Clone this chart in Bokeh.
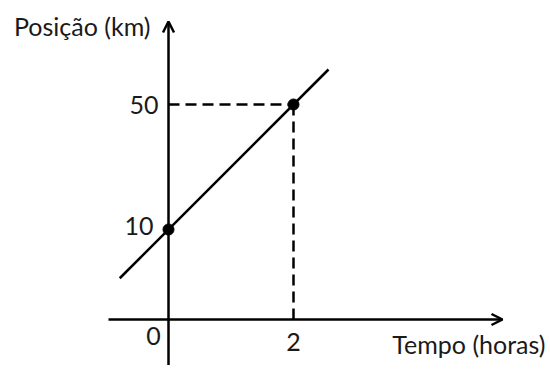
from bokeh.plotting import figure
from bokeh.models import Arrow, OpenHead, Label, Range1d
from bokeh.embed import file_html
from bokeh.resources import INLINE

# Data
times = [0, 2]            # horas
positions = [10, 50]      # km
line_t = [-0.78, 2.56]    # extent of the drawn straight line (horas)
line_pos = [-5.6, 61.2]   # km at those ends
x_tick_labels = ["0", "2"]
y_tick_labels = ["10", "50"]
x_title = "Tempo (horas)"
y_title = "Posição (km)"

# Schematic scale: 62.5 px per hour, 3.125 px per km
PXX, PXY = 62.5, 3.125
W, H = 548, 365
OFF = 0                         # page offset of the canvas
X0_PAGE, Y10_PAGE = 168, 229    # page pixel of t=0 and of 10 km

def dx(px):  # page px -> data x
    return (px - X0_PAGE) / PXX

def dy(py):  # page py -> data y
    return 10 + (Y10_PAGE - py) / PXY

p = figure(width=W, height=H, output_backend="svg", toolbar_location=None,
           x_range=Range1d(dx(OFF), dx(OFF + W)), y_range=Range1d(dy(OFF + H), dy(OFF)),
           min_border=0, x_axis_type=None, y_axis_type=None)
p.grid.visible = False
p.outline_line_color = None
p.background_fill_color = "white"
p.border_fill_color = "white"

axis_y = dy(319)
FONT = "Lato"
FS = "25px"

# axes with arrows
p.add_layout(Arrow(end=OpenHead(size=11, line_width=2.5, line_color="black"),
                   x_start=dx(108), y_start=axis_y, x_end=dx(502), y_end=axis_y,
                   line_width=2.5, line_color="black"))
p.add_layout(Arrow(end=OpenHead(size=11, line_width=2.5, line_color="black"),
                   x_start=0, y_start=dy(380), x_end=0, y_end=dy(21),
                   line_width=2.5, line_color="black"))

# dashed guides
p.line([0, times[1]], [positions[1], positions[1]], line_color="black",
       line_width=2.5, line_dash="11 6")
p.line([times[1], times[1]], [positions[1], axis_y], line_color="black",
       line_width=2.5, line_dash="11 6")

# main line and points
p.line(line_t, line_pos, line_color="black", line_width=2.5)
p.scatter(times, positions, size=11, color="black")

def lab(text, x, y, align):
    p.add_layout(Label(x=x, y=y, text=text, text_align=align, text_baseline="middle",
                       text_font=FONT, text_font_size=FS, text_color="#1a1a1a"))

lab(y_title, dx(150), dy(25), "right")
lab(y_tick_labels[1], dx(158), positions[1], "right")
lab(y_tick_labels[0], dx(153), dy(225), "right")
lab(x_tick_labels[0], dx(153), dy(335), "center")
lab(x_tick_labels[1], times[1], dy(341), "center")
lab(x_title, dx(545), dy(343), "right")

open("out.html", "w").write(file_html(p, INLINE))
